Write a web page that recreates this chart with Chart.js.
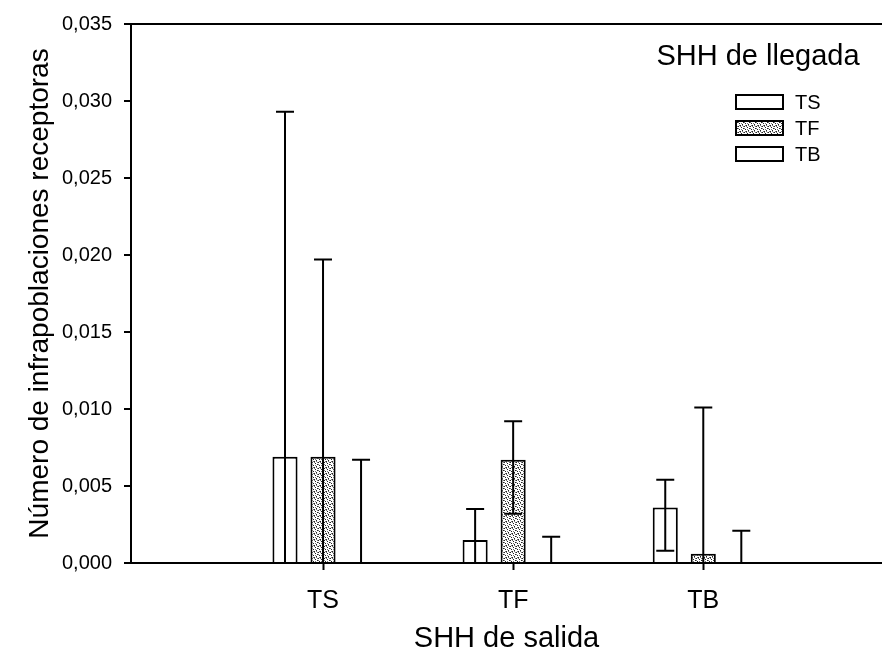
<!DOCTYPE html>
<html>
<head>
<meta charset="utf-8">
<script src="https://cdn.jsdelivr.net/npm/chart.js@4"></script>
<style>
  body { margin: 0; background: #fff; }
  #wrap { width: 882px; height: 660px; }
</style>
</head>
<body>
<div id="wrap"><canvas id="grafico"></canvas></div>
<script>
// categorie e valori
const categorie = ['TS', 'TF', 'TB'];
const serie = ['TS', 'TF', 'TB'];

const mediaTS = [0.0069, 0.0015, 0.0036];
const mediaTF = [0.0069, 0.0067, 0.0006];
const mediaTB = [0, 0, 0];

const supTS = [0.0293, 0.0035, 0.0054];
const supTF = [0.0197, 0.0092, 0.0101];
const supTB = [0.0067, 0.0017, 0.0021];

const infTS = [0, 0, 0.0008];
const infTF = [0, 0.0032, 0];
const infTB = [0, 0, 0];

const tickY = [0, 0.005, 0.010, 0.015, 0.020, 0.025, 0.030, 0.035];

const medie = [mediaTS, mediaTF, mediaTB];
const superiori = [supTS, supTF, supTB];
const inferiori = [infTS, infTF, infTB];

// retino puntinato per TF
function creaRetino() {
    const c = document.createElement('canvas');
    c.width = 6; c.height = 6;
    const g = c.getContext('2d');
    g.fillStyle = '#fff';
    g.fillRect(0, 0, 6, 6);
    g.fillStyle = '#222';
    [[0, 0], [3, 1], [1, 3], [4, 4], [2, 5], [5, 2]].forEach(p => g.fillRect(p[0], p[1], 1, 1));
    g.fillStyle = '#777';
    [[2, 0], [5, 0], [0, 2], [3, 3], [1, 5], [4, 5]].forEach(p => g.fillRect(p[0], p[1], 1, 1));
    return g.createPattern(c, 'repeat');
}
const retino = creaRetino();
const riempimenti = ['#fff', retino, '#fff'];

const font = 'Liberation Sans, Arial, sans-serif';

// barre di errore
const barreErrore = {
    id: 'barreErrore',
    afterDatasetsDraw(chart) {
        const ctx = chart.ctx;
        const y = chart.scales.y;
        ctx.save();
        ctx.strokeStyle = '#000';
        ctx.lineWidth = 2;
        chart.data.datasets.forEach((ds, i) => {
            const meta = chart.getDatasetMeta(i);
            meta.data.forEach((bar, j) => {
                const yAlto = y.getPixelForValue(superiori[i][j]);
                const yBasso = y.getPixelForValue(inferiori[i][j]);
                ctx.beginPath();
                ctx.moveTo(bar.x, yBasso);
                ctx.lineTo(bar.x, yAlto);
                ctx.moveTo(bar.x - 9, yAlto);
                ctx.lineTo(bar.x + 9, yAlto);
                if (inferiori[i][j] > 0) {
                    ctx.moveTo(bar.x - 9, yBasso);
                    ctx.lineTo(bar.x + 9, yBasso);
                }
                ctx.stroke();
            });
        });
        ctx.restore();
    }
};

// legenda dentro l'area del grafico
const legenda = {
    id: 'legenda',
    afterDraw(chart) {
        const ctx = chart.ctx;
        ctx.save();
        ctx.fillStyle = '#000';
        ctx.font = '29px ' + font;
        ctx.textAlign = 'center';
        ctx.textBaseline = 'middle';
        ctx.fillText('SHH de llegada', 758, 57);
        ctx.font = '20px ' + font;
        ctx.textAlign = 'left';
        chart.data.datasets.forEach((ds, i) => {
            const yc = 102 + i * 26;
            ctx.fillStyle = ds.backgroundColor;
            ctx.fillRect(736, yc - 7, 47, 14);
            ctx.strokeStyle = '#000';
            ctx.lineWidth = 2;
            ctx.strokeRect(736, yc - 7, 47, 14);
            ctx.fillStyle = '#000';
            ctx.fillText(ds.label, 795, yc + 1);
        });
        ctx.restore();
    }
};

const datasets = serie.map((nome, i) => ({
    label: nome,
    data: medie[i].map((v, j) => ({ x: j + 1, y: v })),
    backgroundColor: riempimenti[i],
    borderColor: '#000',
    borderWidth: 2,
    categoryPercentage: 0.6,
    barPercentage: 0.66
}));

new Chart(document.getElementById('grafico'), {
    type: 'bar',
    data: { datasets },
    options: {
        responsive: true,
        maintainAspectRatio: false,
        animation: false,
        layout: { padding: { top: 21, right: 0, left: 0, bottom: 0 } },
        plugins: {
            legend: { display: false },
            tooltip: { enabled: false }
        },
        scales: {
            x: {
                type: 'linear',
                offset: false,
                min: -0.01,
                max: 3.94,
                afterFit: s => { s.height = 97; },
                afterBuildTicks: s => { s.ticks = categorie.map((c, i) => ({ value: i + 1 })); },
                ticks: {
                    callback: v => categorie[v - 1] || '',
                    color: '#000',
                    font: { family: font, size: 25 },
                    padding: 16,
                    maxRotation: 0,
                    autoSkip: false
                },
                grid: { offset: false, drawOnChartArea: false, tickLength: 7, tickColor: '#000', tickWidth: 2 },
                border: { color: '#000', width: 2 },
                title: {
                    display: true,
                    text: 'SHH de salida',
                    color: '#000',
                    font: { family: font, size: 29 },
                    padding: { top: 0, bottom: 4 }
                }
            },
            y: {
                min: 0,
                max: 0.035,
                afterFit: s => { s.width = 131; },
                afterBuildTicks: s => { s.ticks = tickY.map(v => ({ value: v })); },
                ticks: {
                    callback: v => v.toFixed(3).replace('.', ','),
                    color: '#000',
                    font: { family: font, size: 20 },
                    padding: 12
                },
                grid: {
                    color: c => (c.tick && c.tick.value === 0.035 ? '#000' : 'transparent'),
                    lineWidth: 2,
                    tickLength: 7,
                    tickColor: '#000',
                    tickWidth: 2
                },
                border: { color: '#000', width: 2 },
                title: {
                    display: true,
                    text: 'Número de infrapoblaciones receptoras',
                    color: '#000',
                    font: { family: font, size: 28 },
                    padding: { top: 23, bottom: 0 }
                }
            }
        }
    },
    plugins: [barreErrore, legenda]
});
</script>
</body>
</html>
